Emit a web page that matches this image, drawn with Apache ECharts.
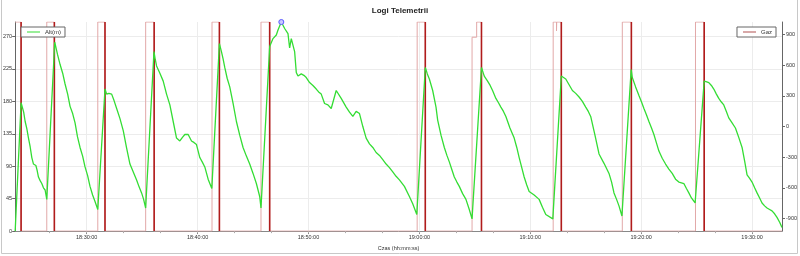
<!DOCTYPE html>
<html>
<head>
<meta charset="utf-8">
<script src="https://cdn.jsdelivr.net/npm/echarts@6/dist/echarts.min.js"></script>
<style>html,body{margin:0;padding:0;background:#fff;}#c{width:800px;height:256px;}</style>
</head>
<body>
<div id="c"></div>
<script>
// Time in seconds after 18:00:00
const altTime = [1413,1445,1451,1459,1467,1476,1485,1494,1503,1512,1518,1525,1532,1539,1548,1557,1566,1575,1584,
  1627,1642,1656,1670,1683,1697,1710,1724,1737,1750,1764,1778,1791,1805,1818,1832,1845,1860,
  1899,1908,1920,1935,1948,1962,1980,1998,2016,2034,2052,2070,2084,2097,2108,2119,
  2164,2171,2178,2196,2214,2232,2250,2268,2286,2304,2318,2331,2340,2349,2367,2380,2394,2412,2425,2439,2457,2477,
  2518,2529,2538,2547,2560,2574,2592,2610,2628,2646,2664,2682,2700,2718,2736,2743,
  2790,2808,2826,2835,2853,2871,2880,2889,2898,2907,2925,2934,2943,2961,2975,2988,3006,3024,3042,3055,3069,3087,3105,3123,3150,3177,3204,3222,3240,3258,3276,3294,3312,3330,3348,3366,3384,3402,3420,3438,3456,3474,3492,3519,3546,3564,3586,
  3632,3643,3654,3672,3690,3699,3717,3735,3749,3762,3776,3789,3803,3816,3834,3852,3870,3885,
  3936,3951,3969,3983,3996,4014,4028,4041,4055,4068,4090,4113,4127,4140,4154,4167,4181,4194,4221,4248,4266,4284,4322,
  4368,4380,4392,4410,4428,4446,4464,4482,4500,4514,4527,4550,4572,4599,4626,4640,4653,4667,4680,4696,
  4746,4752,4770,4788,4802,4815,4829,4842,4856,4869,4883,4896,4914,4932,4950,4968,4986,5004,5018,5031,5045,5058,5072,5092,
  5141,5155,5166,5180,5193,5207,5220,5234,5247,5261,5274,5292,5310,5328,5346,5360,5373,5387,5400,5414,5427,5441,5454,5468,5481,5495,5508,5522,5535,5550,5562];
const altValue = [0,178,180,165,152,142,129,117,102,93,95,91,84,75,70,66,60,57,44,
  262,245,231,219,204,190,173,163,150,131,116,104,89,77,62,50,41,30,
  197,190,191,190,181,170,156,139,115,93,82,71,61,53,44,32,
  249,238,229,219,208,190,175,152,129,125,130,134,133,134,125,123,120,102,96,89,72,59,
  260,249,239,227,212,200,177,152,133,116,104,93,80,66,48,32,
  256,267,272,279,290,281,283,274,254,267,249,220,215,218,216,213,206,202,197,193,190,177,175,170,195,184,172,165,159,166,163,145,129,121,116,109,105,99,93,88,82,76,71,62,48,38,23,
  227,218,211,195,172,154,133,116,105,96,85,75,68,62,52,44,30,17,
  227,215,208,202,195,184,178,172,166,159,143,129,116,102,88,75,64,55,50,44,33,23,17,
  215,213,211,203,195,191,186,180,172,166,159,133,107,94,80,68,53,44,35,21,
  224,213,200,188,179,170,161,152,143,134,122,111,101,93,86,80,72,68,67,66,59,53,46,39,
  208,207,206,202,197,190,184,179,175,166,157,150,143,130,116,97,78,73,68,60,53,46,39,35,32,30,28,24,19,12,5];

const gazTime = [1413,1445,1445,1584,1584,1625,1625,1860,1860,1899,1899,2119,2119,2165,2165,
  2478,2478,2518,2518,2743,2743,2790,2790,3588,3588,3632,3632,
  3885,3885,3910,3910,3936,3936,4324,4324,4342,4342,4343,4368,4368,
  4698,4698,4747,4747,5094,5094,5141,5141,5562];
const gazValue = [1024,1024,-1024,-1024,1024,1024,-1024,-1024,1024,1024,-1024,-1024,1024,1024,-1024,
  -1024,1024,1024,-1024,-1024,1024,1024,-1024,-1024,1024,1024,-1024,
  -1024,875,875,1024,1024,-1024,-1024,1024,1024,937,1024,1024,-1024,
  -1024,1024,1024,-1024,-1024,1024,1024,-1024,-1024];

const xLabelValues = [1800,2400,3000,3600,4200,4800,5400];
const xMinorTicks = [1600,1800,2000,2200,2400,2600,2800,3000,3200,3400,3600,3800,4000,4200,4400,4600,4800,5000,5200,5400];
const altTicks = [0,45,90,135,180,225,270];
const gazTicks = [-900,-600,-300,0,300,600,900];

const altData = altTime.map((t,i)=>[t, altValue[i]]);
const gazData = gazTime.map((t,i)=>[t, gazValue[i]]);
// falling edges (drawn darker)
const edgeData = [];
for (let i=1;i<gazTime.length;i++){
  if (gazTime[i]===gazTime[i-1] && gazValue[i-1]>0 && gazValue[i]<0){
    edgeData.push([gazTime[i], gazValue[i-1]],[gazTime[i], gazValue[i]],[gazTime[i],'-']);
  }
}
function fmt(s){
  const h = 18 + Math.floor(s/3600), m = Math.floor((s%3600)/60), sec = Math.round(s%60);
  const p = n => String(n).padStart(2,'0');
  return p(h)+':'+p(m)+':'+p(sec);
}
const FONT = 'Liberation Sans';
const chart = echarts.init(document.getElementById('c'), null, {renderer:'canvas'});
chart.setOption({
  animation:false,
  backgroundColor:'#fff',
  textStyle:{fontFamily:FONT},
  title:{text:'Logi Telemetrii', left:'center', top:2,
    textStyle:{fontSize:8, fontWeight:'bold', color:'#222', fontFamily:FONT}},
  graphic:[{type:'rect', shape:{x:1.5,y:-1,width:796,height:254.5}, style:{fill:null, stroke:'#c8c8c8', lineWidth:1}, silent:true}],
  grid:{left:15, right:17, top:22, bottom:20, containLabel:false},
  legend:[
    {data:[{name:'Alt(m)'}], left:21, top:27, icon:'rect', itemWidth:13, itemHeight:1, itemGap:4,
     padding:[2,4,2,6], borderColor:'#666', borderWidth:1, backgroundColor:'#fff',
     textStyle:{fontSize:6, color:'#333', fontFamily:FONT}},
    {data:[{name:'Gaz', itemStyle:{color:'#b05050'}}], right:24, top:27, icon:'rect', itemWidth:13, itemHeight:1,
     padding:[2,4,2,6], borderColor:'#666', borderWidth:1, backgroundColor:'#fff',
     textStyle:{fontSize:6, color:'#333', fontFamily:FONT}}
  ],
  xAxis:[{
    type:'value', min:1413, max:5562,
    name:'Czas (hh:mm:ss)', nameLocation:'middle', nameGap:11,
    nameTextStyle:{fontSize:5.5, color:'#333', fontFamily:FONT},
    axisLine:{show:true, onZero:false, lineStyle:{color:'#888'}},
    axisTick:{show:true, length:3, customValues:xLabelValues, lineStyle:{color:'#888'}},
    axisLabel:{customValues:xLabelValues, formatter:fmt, fontSize:5.5, color:'#333', margin:3, fontFamily:FONT},
    splitLine:{show:true, lineStyle:{color:'#ececec'}}
  },{
    type:'value', min:1413, max:5562, position:'bottom',
    axisLine:{show:false}, axisLabel:{show:false}, splitLine:{show:false},
    axisTick:{show:true, length:2, customValues:xMinorTicks, lineStyle:{color:'#aaa'}}
  }],
  yAxis:[{
    type:'value', min:0, max:290, position:'left',
    axisLine:{show:true, onZero:false, lineStyle:{color:'#666'}},
    axisTick:{show:true, length:3, customValues:altTicks, lineStyle:{color:'#666'}},
    axisLabel:{customValues:altTicks, fontSize:5.5, color:'#333', margin:3, fontFamily:FONT},
    splitLine:{show:true, lineStyle:{color:'#ececec'}}
  },{
    type:'value', min:-1024, max:1024, position:'right',
    axisLine:{show:true, onZero:false, lineStyle:{color:'#666'}},
    axisTick:{show:true, length:3, customValues:gazTicks, lineStyle:{color:'#666'}},
    axisLabel:{customValues:gazTicks, fontSize:5.5, color:'#333', margin:4, fontFamily:FONT},
    splitLine:{show:false}
  }],
  series:[
    {name:'Gaz', type:'line', xAxisIndex:0, yAxisIndex:1, data:gazData, symbol:'none',
     lineStyle:{color:'#e2a8a8', width:1}, itemStyle:{color:'#e2a8a8'}, z:2},
    {name:'GazEdge', type:'line', xAxisIndex:0, yAxisIndex:1, data:edgeData, symbol:'none', connectNulls:false,
     lineStyle:{color:'#b01c1c', width:1.6}, itemStyle:{color:'#b01c1c'}, z:3},
    {name:'Alt(m)', type:'line', xAxisIndex:0, yAxisIndex:0, data:altData, symbol:'none',
     lineStyle:{color:'#33dd33', width:1.3}, itemStyle:{color:'#33dd33'}, z:4,
     markPoint:{data:[{type:'max'}], symbol:'circle', symbolSize:5,
       itemStyle:{color:'#c8c8ff', borderColor:'#5a5aff', borderWidth:1}, label:{show:false}}}
  ]
});
</script>
</body>
</html>
